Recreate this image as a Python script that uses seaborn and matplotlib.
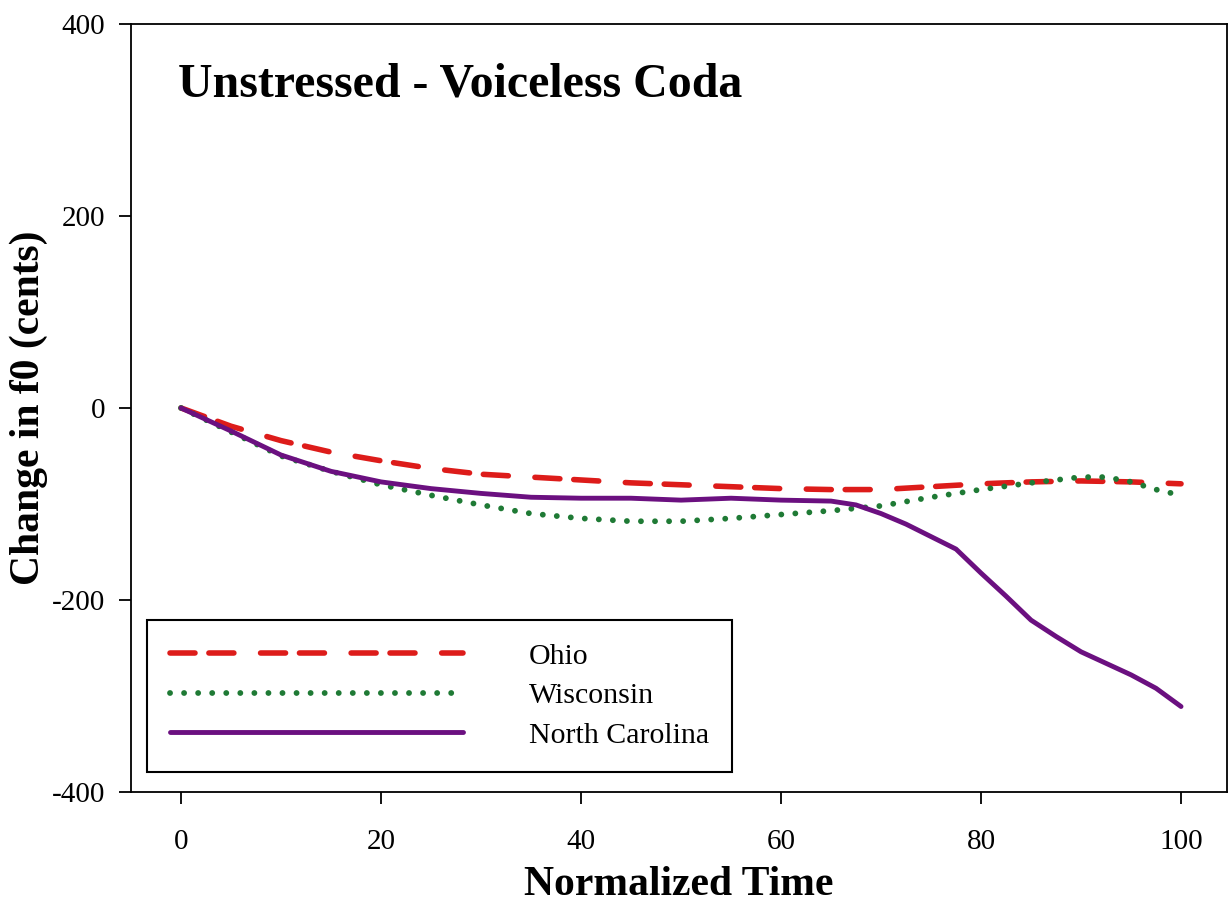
import numpy as np
import pandas as pd
import seaborn as sns
import matplotlib.pyplot as plt

# values (change in f0, cents)
time = [0, 5, 10, 15, 20, 25, 30, 35, 40, 45, 50, 55, 60, 65, 70, 75, 80, 85, 90, 95, 100]
ohio = [0, -19, -34, -46, -55, -63, -69, -72, -75, -78, -80, -82, -84, -85, -85, -82, -79, -77, -76, -77, -79]

wis_time = [0, 5, 10, 15, 20, 25, 30, 35, 40, 45, 50, 55, 60, 65, 70, 75, 80, 85, 90, 92.5, 95, 97.5, 100]
wisconsin = [0, -25, -50, -66, -80, -91, -101, -110, -115, -118, -118, -115, -111, -107, -102, -93, -85, -78, -72, -72, -77, -85, -91]

nc_time = [0, 5, 10, 15, 20, 25, 30, 35, 40, 45, 50, 55, 60, 65, 67.5, 70, 72.5, 75, 77.5,
           80, 82.5, 85, 87.5, 90, 92.5, 95, 97.5, 100]
north_carolina = [0, -24, -49, -66, -77, -84, -89, -93, -94, -94, -96, -94, -96, -97, -101, -110, -121, -134, -147,
                  -172, -196, -221, -238, -254, -266, -278, -292, -311]

series_names = ["Ohio", "Wisconsin", "North Carolina"]
colors = {"Ohio": "#DD1C1A", "Wisconsin": "#1F7A35", "North Carolina": "#6B1080"}
styles = {"Ohio": (0, (4.5, 2.5, 4.5, 4.8)), "Wisconsin": (0, (0.01, 2.4)), "North Carolina": "-"}
widths = {"Ohio": 4.0, "Wisconsin": 4.2, "North Carolina": 3.5}

df = pd.DataFrame({
    "time": time + wis_time + nc_time,
    "cents": ohio + wisconsin + north_carolina,
    "region": ["Ohio"] * len(time) + ["Wisconsin"] * len(wis_time) + ["North Carolina"] * len(nc_time),
})

sns.set_theme(style="ticks")
plt.rcParams["font.family"] = ["Liberation Serif", "DejaVu Serif"]
plt.rcParams["axes.unicode_minus"] = False
plt.rcParams["text.color"] = "black"

fig = plt.figure(figsize=(12.29, 9.02), dpi=100)
ax = fig.add_axes([0.1066, 0.122, 0.8918, 0.8514])

for name in series_names:
    sub = df[df["region"] == name]
    sns.lineplot(data=sub, x="time", y="cents", ax=ax, color=colors[name],
                 linestyle=styles[name], linewidth=widths[name],
                 dash_capstyle="round", solid_capstyle="round",
                 estimator=None, label=name)

ax.set_xlim(-5, 104.6)
ax.set_ylim(-400, 400)
ax.set_xticks([0, 20, 40, 60, 80, 100])
ax.set_yticks([-400, -200, 0, 200, 400])

for sp in ax.spines.values():
    sp.set_visible(True)
    sp.set_color("black")
    sp.set_linewidth(1.3)
ax.tick_params(axis="both", direction="out", length=8.5, width=1.3, colors="black",
               labelsize=21, top=False, right=False)
ax.tick_params(axis="x", pad=18)
ax.tick_params(axis="y", pad=10)

ax.set_xlabel("Normalized Time", fontsize=30, fontweight="bold", color="black")
ax.set_ylabel("Change in f0 (cents)", fontsize=30, fontweight="bold", color="black")
ax.xaxis.set_label_coords(0.5, -0.097)
ax.yaxis.set_label_coords(-0.076, 0.5)

ax.text(0.043, 0.905, "Unstressed - Voiceless Coda", transform=ax.transAxes,
        fontsize=34.5, fontweight="bold", va="baseline", ha="left", color="black")

leg = ax.legend(loc="lower left", bbox_to_anchor=(0.0146, 0.026), fontsize=21.5,
                handlelength=9.8, handletextpad=2.2, labelspacing=0.42,
                borderpad=0.78, borderaxespad=0, fancybox=False, framealpha=1,
                edgecolor="black")
leg.get_frame().set_linewidth(1.5)
for t in leg.get_texts():
    t.set_color("black")

fig.savefig("out.png", dpi=100, facecolor="white")
